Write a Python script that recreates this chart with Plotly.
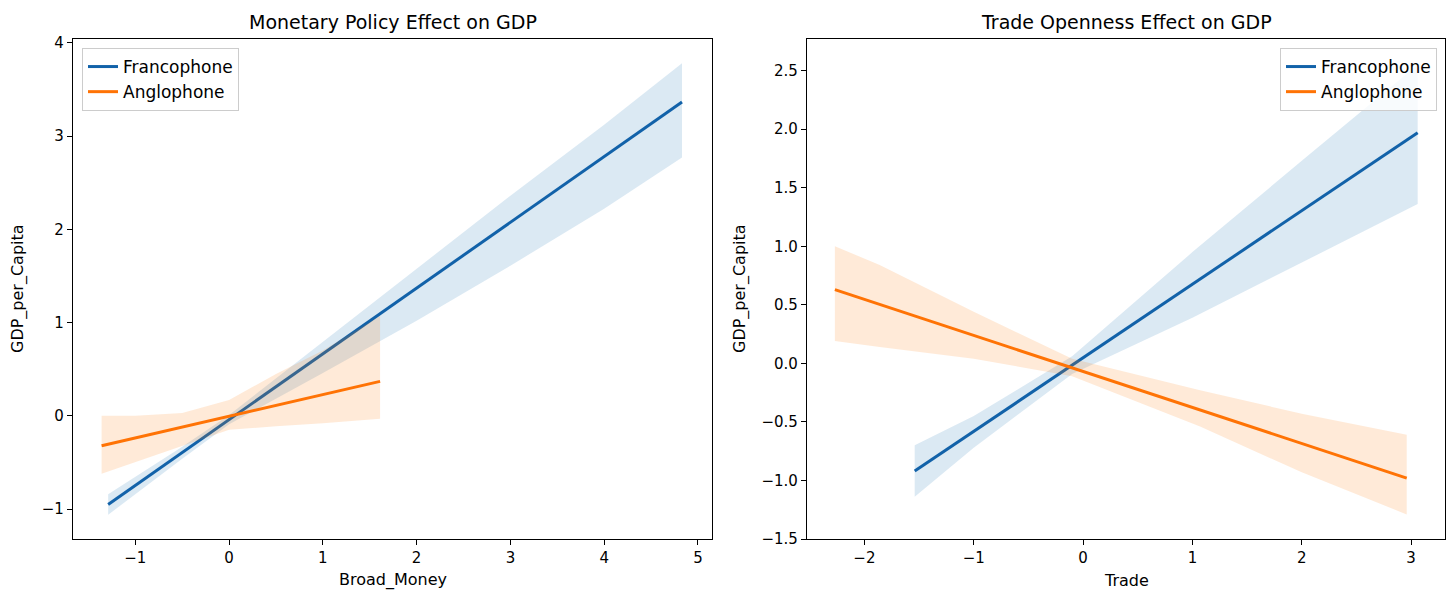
import plotly.graph_objects as go

W, H = 1453, 595

# ---------------- data ----------------
groups = ["Francophone", "Anglophone"]

# Left panel: Broad_Money
bm_franc_x = [-1.29, -0.5, 0.0, 1.0, 2.0, 3.0, 4.0, 4.83]
bm_franc_y = [-0.95, -0.39, -0.04, 0.665, 1.37, 2.075, 2.78, 3.365]
bm_franc_lo = [-1.06, -0.46, -0.09, 0.46, 1.02, 1.61, 2.22, 2.77]
bm_franc_hi = [-0.84, -0.33, 0.01, 0.79, 1.57, 2.36, 3.12, 3.78]

bm_anglo_x = [-1.36, -1.0, -0.5, 0.0, 0.5, 1.0, 1.61]
bm_anglo_y = [-0.32, -0.237, -0.121, -0.005, 0.111, 0.227, 0.37]
bm_anglo_lo = [-0.62, -0.49, -0.32, -0.15, -0.11, -0.08, -0.03]
bm_anglo_hi = [0.0, 0.0, 0.03, 0.17, 0.45, 0.70, 1.07]

# Right panel: Trade
tr_franc_x = [-1.54, -1.0, -0.1, 1.0, 2.0, 3.06]
tr_franc_y = [-0.92, -0.58, -0.015, 0.675, 1.30, 1.97]
tr_franc_lo = [-1.14, -0.72, -0.09, 0.39, 0.86, 1.36]
tr_franc_hi = [-0.70, -0.45, 0.06, 0.95, 1.73, 2.55]

tr_anglo_x = [-2.27, -1.86, -1.0, -0.1, 1.07, 2.0, 2.96]
tr_anglo_y = [0.63, 0.504, 0.24, -0.04, -0.40, -0.68, -0.98]
tr_anglo_lo = [0.19, 0.14, 0.04, -0.11, -0.54, -0.93, -1.29]
tr_anglo_hi = [1.00, 0.84, 0.44, 0.04, -0.23, -0.43, -0.61]

titles = ["Monetary Policy Effect on GDP", "Trade Openness Effect on GDP"]
xlabels = ["Broad_Money", "Trade"]
ylabel = "GDP_per_Capita"

left_xticks = [-1, 0, 1, 2, 3, 4, 5]
left_yticks = [-1, 0, 1, 2, 3, 4]
right_xticks = [-2, -1, 0, 1, 2, 3]
right_yticks = [-1.5, -1.0, -0.5, 0.0, 0.5, 1.0, 1.5, 2.0, 2.5]

# ---------------- style ----------------
LINE_C = {"Francophone": "#1262a9", "Anglophone": "#ff7305"}
BAND_C = {"Francophone": "rgba(31,119,180,0.16)", "Anglophone": "rgba(255,127,14,0.16)"}
FONT = "DejaVu Sans"

# pixel geometry
L1, R1 = 73, 712
L2, R2 = 807, 1445
TOP, BOT = 39, 539

fig = go.Figure()


def add_group(name, xs, ys, lo, hi, xa, ya, legend):
    fig.add_trace(go.Scatter(
        x=xs + xs[::-1], y=hi + lo[::-1], fill="toself", fillcolor=BAND_C[name],
        line=dict(width=0), mode="lines", hoverinfo="skip", showlegend=False,
        xaxis=xa, yaxis=ya))
    fig.add_trace(go.Scatter(
        x=[xs[0], xs[-1]], y=[ys[0], ys[-1]], mode="lines", name=name,
        line=dict(color=LINE_C[name], width=3), xaxis=xa, yaxis=ya,
        legend=legend))


add_group("Francophone", bm_franc_x, bm_franc_y, bm_franc_lo, bm_franc_hi, "x", "y", "legend")
add_group("Anglophone", bm_anglo_x, bm_anglo_y, bm_anglo_lo, bm_anglo_hi, "x", "y", "legend")
add_group("Francophone", tr_franc_x, tr_franc_y, tr_franc_lo, tr_franc_hi, "x2", "y2", "legend2")
add_group("Anglophone", tr_anglo_x, tr_anglo_y, tr_anglo_lo, tr_anglo_hi, "x2", "y2", "legend2")

axis_common = dict(
    showline=True, linecolor="black", linewidth=1.2, mirror=True,
    ticks="outside", ticklen=5, tickwidth=1.2, tickcolor="black",
    showgrid=False, zeroline=False,
    tickfont=dict(family=FONT, size=15, color="black"),
    automargin=False,
)

ydom = [1 - BOT / H, 1 - TOP / H]

legend_common = dict(
    yanchor="top", bgcolor="rgba(255,255,255,0.8)", bordercolor="#cccccc", borderwidth=1,
    font=dict(family=FONT, size=17, color="black"), tracegroupgap=0,
)

fig.update_layout(
    width=W, height=H,
    margin=dict(l=0, r=0, t=0, b=0),
    paper_bgcolor="white", plot_bgcolor="white",
    font=dict(family=FONT, color="black"),
    xaxis=dict(domain=[L1 / W, R1 / W], range=[-1.665, 5.15], tickvals=left_xticks,
               anchor="y", **axis_common),
    yaxis=dict(domain=ydom, range=[-1.32, 4.04], tickvals=left_yticks,
               anchor="x", **axis_common),
    xaxis2=dict(domain=[L2 / W, R2 / W], range=[-2.525, 3.31], tickvals=right_xticks,
                anchor="y2", **axis_common),
    yaxis2=dict(domain=ydom, range=[-1.5, 2.77], tickvals=right_yticks,
                tickformat=".1f", anchor="x2", **axis_common),
    legend=dict(x=82 / W, y=1 - 48 / H, xanchor="left", **legend_common),
    legend2=dict(x=1437 / W, y=1 - 48 / H, xanchor="right", **legend_common),
    showlegend=True,
)

annots = []
for t, (l, r) in zip(titles, [(L1, R1), (L2, R2)]):
    annots.append(dict(text=t, x=(l + r) / 2 / W, y=1 - 22 / H, xref="paper", yref="paper",
                       xanchor="center", yanchor="middle", showarrow=False,
                       font=dict(family=FONT, size=19, color="black")))
for t, (l, r) in zip(xlabels, [(L1, R1), (L2, R2)]):
    annots.append(dict(text=t, x=(l + r) / 2 / W, y=1 - 580 / H, xref="paper", yref="paper",
                       xanchor="center", yanchor="middle", showarrow=False,
                       font=dict(family=FONT, size=16, color="black")))
for xp in [18, 740]:
    annots.append(dict(text=ylabel, x=xp / W, y=1 - ((TOP + BOT) / 2) / H, xref="paper",
                       yref="paper", xanchor="center", yanchor="middle", showarrow=False,
                       textangle=-90, font=dict(family=FONT, size=16, color="black")))
fig.update_layout(annotations=annots)

fig.write_html(
    "out.html",
    config={"displayModeBar": False},
    post_script="document.body.style.margin='0px';document.body.style.overflow='hidden';",
)
